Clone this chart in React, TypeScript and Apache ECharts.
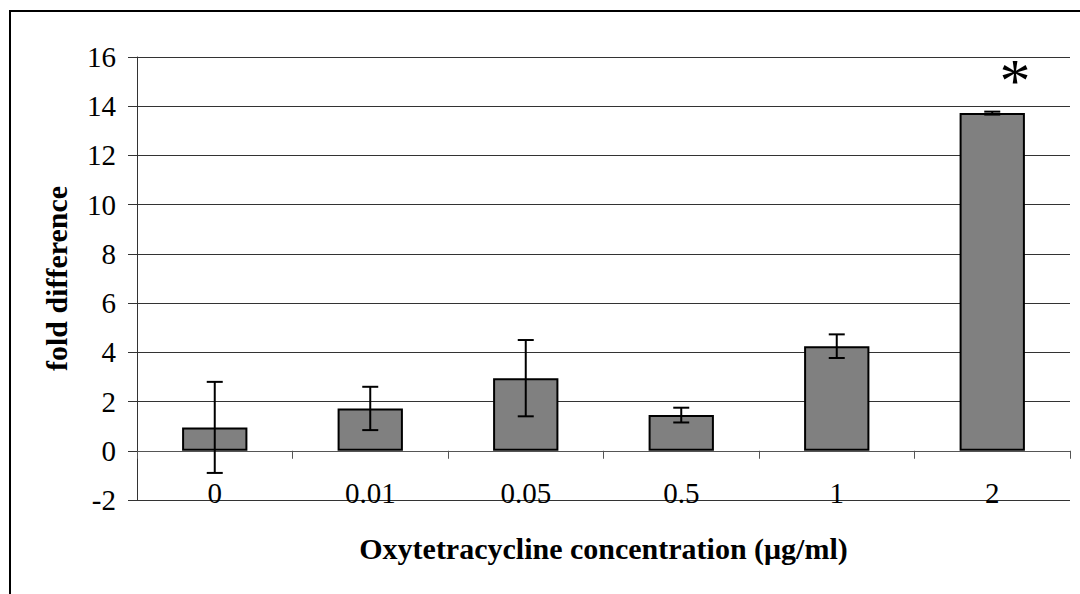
import React, { useEffect, useRef } from "react";
import * as echarts from "echarts";

const categories = ["0", "0.01", "0.05", "0.5", "1", "2"];
const means = [0.95, 1.72, 2.95, 1.45, 4.25, 13.72];
const errors = [1.85, 0.88, 1.55, 0.3, 0.48, 0.06];
const yTicks = { min: -2, max: 16, interval: 2 };
const xTitle = "Oxytetracycline concentration (\u03bcg/ml)";
const yTitle = "fold difference";
const significance = "*";

const FONT = "'Liberation Serif', 'Times New Roman', serif";

export default function App() {
  const ref = useRef<HTMLDivElement>(null);
  useEffect(() => {
    if (!ref.current) return;
    const chart = echarts.init(ref.current, undefined, { renderer: "svg" });
    const errData = means.map((m, i) => [i, m - errors[i], m + errors[i]]);
    chart.setOption({
      animation: false,
      backgroundColor: "#fff",
      grid: { left: 137, right: 10, top: 57, bottom: 94, containLabel: false, outerBoundsMode: "none" },
      xAxis: {
        type: "category",
        data: categories,
        name: xTitle,
        nameLocation: "middle",
        nameGap: 33,
        nameMoveOverlap: false,
        nameTextStyle: { fontFamily: FONT, fontSize: 30, fontWeight: "bold", color: "#000", lineHeight: 30 },
        axisLine: { show: true, onZero: true, lineStyle: { color: "#555", width: 1 } },
        axisTick: { show: true, length: 8, alignWithLabel: false, interval: 0, lineStyle: { color: "#555" } },
        axisLabel: { margin: -22, fontFamily: FONT, fontSize: 29, color: "#000", lineHeight: 29, interval: 0 },
        splitLine: { show: false },
      },
      yAxis: {
        type: "value",
        min: yTicks.min,
        max: yTicks.max,
        interval: yTicks.interval,
        name: yTitle,
        nameLocation: "middle",
        nameRotate: 90,
        nameGap: 66,
        nameMoveOverlap: false,
        nameTextStyle: { fontFamily: FONT, fontSize: 30, fontWeight: "bold", color: "#000", lineHeight: 30 },
        axisLine: { show: true, lineStyle: { color: "#333", width: 1 } },
        axisTick: { show: true, length: 9, inside: false, lineStyle: { color: "#333" } },
        axisLabel: { margin: 21, fontFamily: FONT, fontSize: 29, color: "#000", lineHeight: 29 },
        splitLine: { show: true, lineStyle: { color: "#333", width: 1 } },
      },
      series: [
        {
          type: "bar",
          data: means,
          barWidth: "42%",
          itemStyle: { color: "#808080", borderColor: "#000", borderWidth: 2 },
          z: 2,
        },
        {
          type: "custom",
          z: 5,
          data: errData,
          renderItem: (params: any, api: any) => {
            const i = api.value(0);
            const lo = api.coord([i, api.value(1)]);
            const hi = api.coord([i, api.value(2)]);
            const half = 8;
            const style = { stroke: "#000", lineWidth: 2 };
            return {
              type: "group",
              children: [
                { type: "line", shape: { x1: lo[0], y1: lo[1], x2: hi[0], y2: hi[1] }, style },
                { type: "line", shape: { x1: lo[0] - half, y1: lo[1], x2: lo[0] + half, y2: lo[1] }, style },
                { type: "line", shape: { x1: hi[0] - half, y1: hi[1], x2: hi[0] + half, y2: hi[1] }, style },
              ],
            };
          },
        },
      ],
      graphic: [
        {
          type: "rect",
          shape: { x: 10, y: 11, width: 1200, height: 800 },
          style: { fill: "none", stroke: "#000", lineWidth: 2 },
          silent: true,
        },
        {
          type: "text",
          x: 1015,
          y: 80,
          style: {
            text: significance,
            fontFamily: FONT,
            fontSize: 62,
            fill: "#000",
            textAlign: "center",
            textVerticalAlign: "middle",
          },
        },
      ],
    });
    return () => chart.dispose();
  }, []);
  return (
    <div
      ref={ref}
      style={{ position: "fixed", left: 0, top: 0, width: 1080, height: 594, background: "#fff" }}
    />
  );
}
